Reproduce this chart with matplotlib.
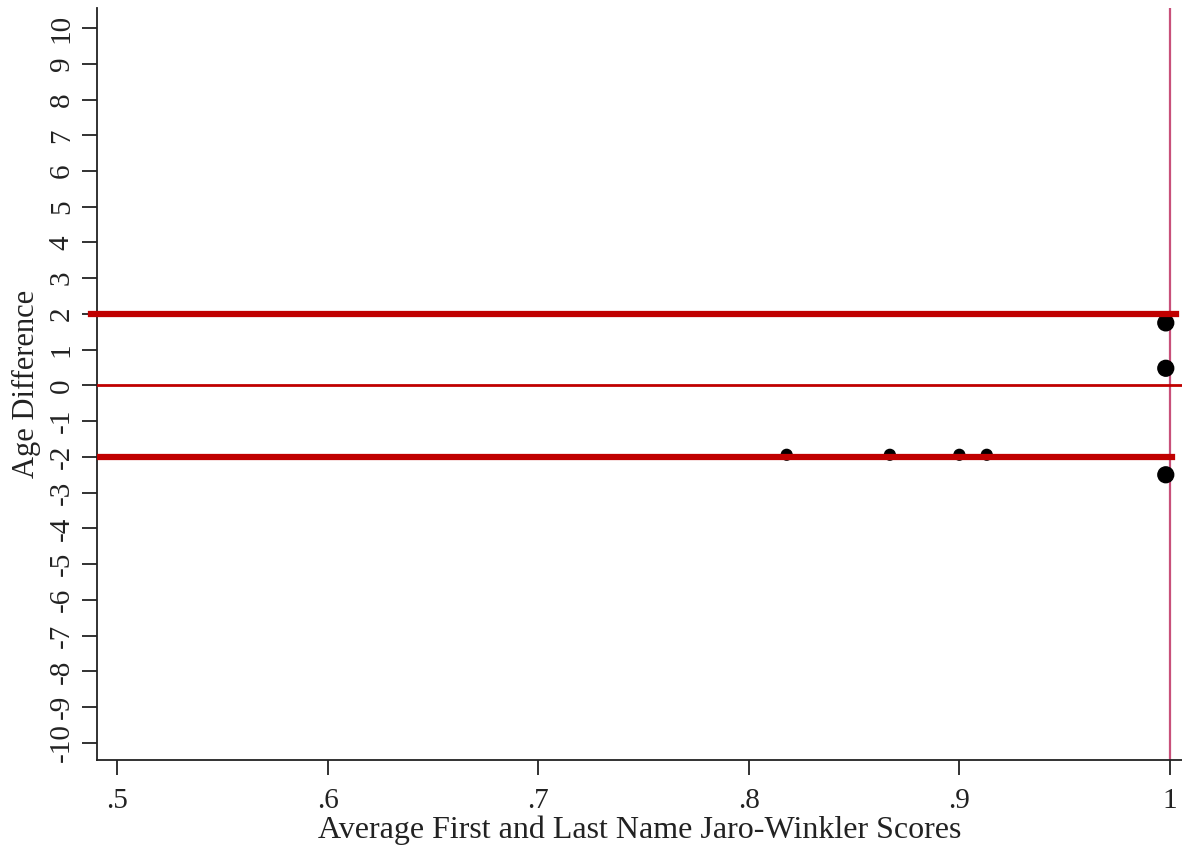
import matplotlib.pyplot as plt

# matched pairs: name similarity score vs. age difference
jw_score = [0.998, 0.998, 0.998, 0.818, 0.867, 0.900, 0.913]
age_diff = [1.75, 0.48, -2.5, -1.94, -1.94, -1.94, -1.94]
marker_size = [130, 130, 130, 60, 60, 60, 60]

band_hi = 2
band_lo = -2
x_ticks = [0.5, 0.6, 0.7, 0.8, 0.9, 1.0]
x_labels = ['.5', '.6', '.7', '.8', '.9', '1']
y_ticks = list(range(-10, 11))

plt.rcParams['font.family'] = ['Liberation Serif', 'DejaVu Serif']

fig = plt.figure(figsize=(11.82, 8.46), dpi=100)
ax = fig.add_axes([0.082, 0.1017, 0.918, 0.8888])

ax.scatter(jw_score, age_diff, s=marker_size, color='black', zorder=2)

red = '#C00000'
ax.axhline(band_hi, xmin=-0.005, xmax=0.9945, color=red, lw=4.5, zorder=3, clip_on=False)
ax.axhline(0, color=red, lw=2, zorder=3)
ax.axhline(band_lo, xmax=0.991, color=red, lw=4.5, zorder=3)
ax.axvline(1.0, color='#C8507A', lw=1.6, zorder=1)

ax.set_xlim(0.4905, 1.0057)
ax.set_ylim(-10.48, 10.56)
ax.set_xticks(x_ticks)
ax.set_xticklabels(x_labels)
ax.set_yticks(y_ticks)
ax.set_yticklabels([str(v) for v in y_ticks], rotation=90, va='center')
ax.tick_params(axis='both', labelsize=21, length=11, width=1.3, color='#222222', labelcolor='#222222')
ax.tick_params(axis='x', pad=9)
ax.tick_params(axis='y', pad=5)

ax.spines['top'].set_visible(False)
ax.spines['right'].set_visible(False)
for side in ['left', 'bottom']:
    ax.spines[side].set_linewidth(1.3)
    ax.spines[side].set_color('#222222')

ax.set_xlabel('Average First and Last Name Jaro-Winkler Scores', fontsize=23, color='#222222')
ax.set_ylabel('Age Difference', fontsize=22, color='#222222')
ax.xaxis.set_label_coords(0.5, -0.074, transform=ax.transAxes)
ax.yaxis.set_label_coords(-0.052, 0.5, transform=ax.transAxes)

fig.savefig('out.png', dpi=100)
